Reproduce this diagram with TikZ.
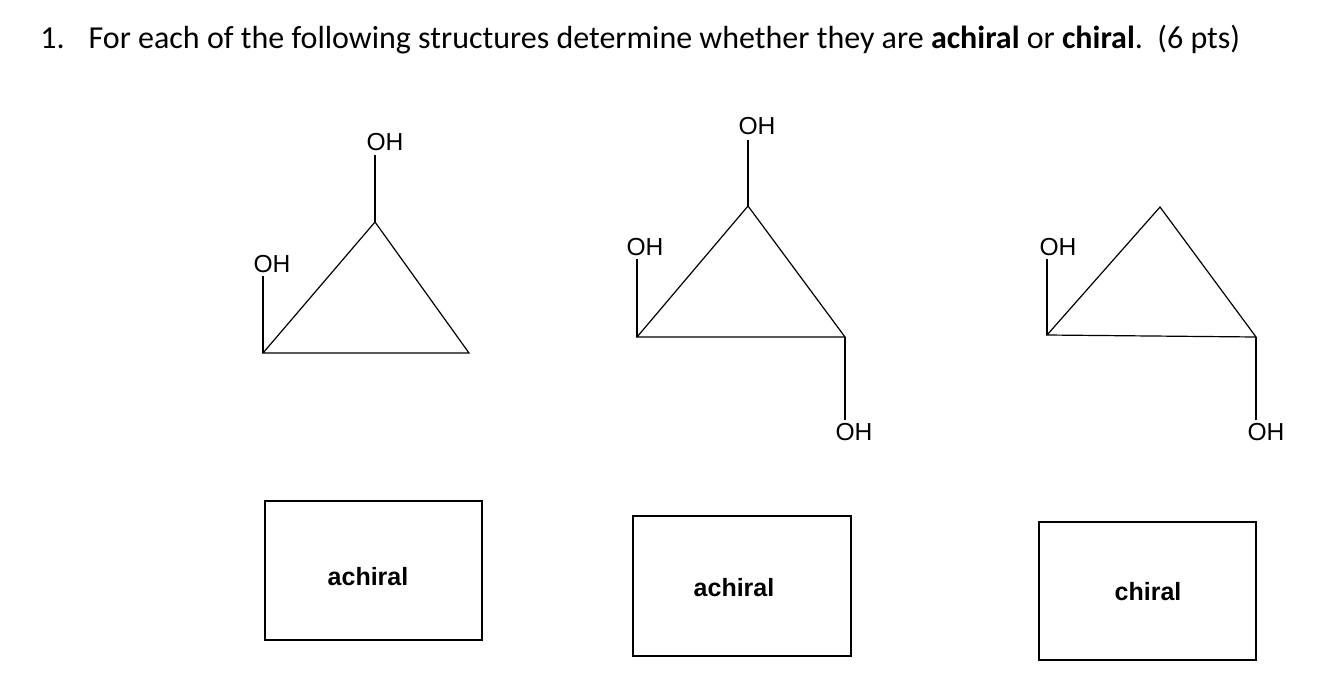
\documentclass[tikz,border=0pt]{standalone}
\usepackage{fontspec}
\setmainfont{Carlito}
\newfontfamily\arialf{Liberation Sans}
\begin{document}
\begin{tikzpicture}[x=0.5pt,y=-0.5pt,
  bond/.style={line width=0.6pt},
  oh/.style={font=\arialf\fontsize{12.3}{14}\selectfont,inner sep=0pt},
  box/.style={draw,line width=0.6pt},
  ans/.style={font=\arialf\bfseries\fontsize{12.5}{14}\selectfont}]
\useasboundingbox (0,0) rectangle (1336,680);
\node[anchor=west,inner sep=0pt,font=\fontsize{16}{19}\selectfont] (title) at (40,40) {1.\hspace{12pt}For each of the following structures determine whether they are \textbf{achiral} or \textbf{chiral}.\ \ (6 pts)};
% structure 1
\coordinate (a1) at (263,353); \coordinate (b1) at (375,222); \coordinate (c1) at (469,353);
\node[oh] (o1t) at (385,142) {OH}; \node[oh] (o1l) at (272,264) {OH};
\draw[bond] (a1)--(b1)--(c1)--cycle;
\draw[bond] (b1)--(375,155); \draw[bond] (a1)--(263,276);
% structure 2
\coordinate (a2) at (637,337); \coordinate (b2) at (748,206); \coordinate (c2) at (845,337);
\node[oh] (o2t) at (757,126) {OH}; \node[oh] (o2l) at (645,247) {OH}; \node[oh] (o2r) at (854,432) {OH};
\draw[bond] (a2)--(b2)--(c2)--cycle;
\draw[bond] (b2)--(748,140); \draw[bond] (a2)--(637,259); \draw[bond] (c2)--(845,420);
% structure 3
\coordinate (a3) at (1047,335); \coordinate (b3) at (1160,207); \coordinate (c3) at (1256,337);
\node[oh] (o3l) at (1058,247) {OH}; \node[oh] (o3r) at (1266,432) {OH};
\draw[bond] (a3)--(b3)--(c3)--cycle;
\draw[bond] (a3)--(1047,259); \draw[bond] (c3)--(1256,420);
% boxes
\draw[box] (265,501) rectangle (482,640); \node[ans] (t1) at (368,577) {achiral};
\draw[box] (633,516) rectangle (851,656); \node[ans] (t2) at (734,588) {achiral};
\draw[box] (1039,522) rectangle (1256,660); \node[ans] (t3) at (1148,592) {chiral};
\end{tikzpicture}
\end{document}
